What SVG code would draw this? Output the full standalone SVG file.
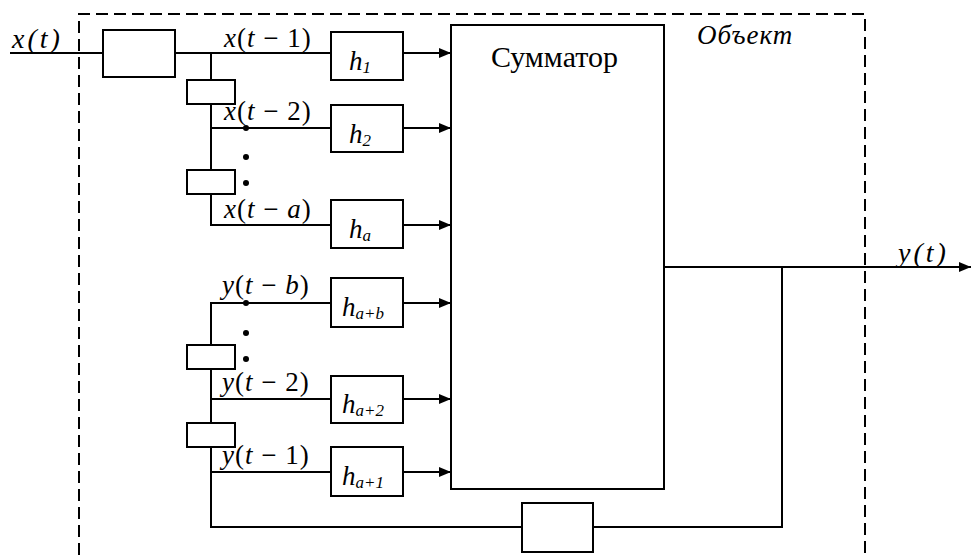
<svg xmlns="http://www.w3.org/2000/svg" width="971" height="555" viewBox="0 0 971 555">
<style>
.ln{stroke:#000;stroke-width:2;fill:none}
.bx{stroke:#000;stroke-width:2;fill:#fff}
.dash{stroke:#000;stroke-width:2;fill:none;stroke-dasharray:12,6}
text{font-family:"Liberation Serif",serif;fill:#000}
.m{font-size:27px;letter-spacing:1px}
.i{font-style:italic}
.io{font-size:28px;font-style:italic;letter-spacing:3px}
.h{font-size:27px;font-style:italic}
.s{font-size:17px}
</style>
<defs>
<marker id="ar" viewBox="0 0 12 10" refX="12" refY="5" markerWidth="12" markerHeight="10" markerUnits="userSpaceOnUse" orient="auto">
<path d="M0,0 L12,5 L0,10 Z" fill="#000"/>
</marker>
</defs>
<rect width="971" height="555" fill="#fff"/>
<g id="object-border">
<polyline class="dash" points="79,555 79,14 865,14 865,555"/>
<text x="697" y="44" font-size="27" font-style="italic" letter-spacing="1">Объект</text>
</g>
<g id="connectors">
<line class="ln" x1="10" y1="53" x2="103" y2="53"/>
<line class="ln" x1="175" y1="53" x2="331" y2="53"/>
<line class="ln" x1="211" y1="53" x2="211" y2="80"/>
<polyline class="ln" points="211,104 211,225 331,225"/>
<line class="ln" x1="211" y1="128" x2="331" y2="128"/>
<polyline class="ln" points="331,303 211,303 211,527 522,527"/>
<line class="ln" x1="211" y1="399" x2="331" y2="399"/>
<line class="ln" x1="211" y1="472" x2="331" y2="472"/>
<polyline class="ln" points="593,527 782,527 782,267"/>
<line class="ln" x1="403" y1="53" x2="451" y2="53" marker-end="url(#ar)"/>
<line class="ln" x1="403" y1="128" x2="451" y2="128" marker-end="url(#ar)"/>
<line class="ln" x1="403" y1="225" x2="451" y2="225" marker-end="url(#ar)"/>
<line class="ln" x1="403" y1="303" x2="451" y2="303" marker-end="url(#ar)"/>
<line class="ln" x1="403" y1="399" x2="451" y2="399" marker-end="url(#ar)"/>
<line class="ln" x1="403" y1="472" x2="451" y2="472" marker-end="url(#ar)"/>
<line class="ln" x1="664" y1="267" x2="971" y2="267" marker-end="url(#ar)"/>
<circle cx="246" cy="128" r="3"/>
<circle cx="246" cy="157" r="3"/>
<circle cx="246" cy="183" r="3"/>
<circle cx="246" cy="303" r="3"/>
<circle cx="246" cy="333" r="3"/>
<circle cx="246" cy="359" r="3"/>
</g>
<g id="input-delay"><rect class="bx" x="103" y="30" width="72" height="47"/></g>
<g id="delay-x2"><rect class="bx" x="187" y="80" width="48" height="24"/></g>
<g id="delay-xa"><rect class="bx" x="187" y="170" width="48" height="24"/></g>
<g id="delay-yb"><rect class="bx" x="187" y="345" width="48" height="24"/></g>
<g id="delay-y1"><rect class="bx" x="187" y="423" width="48" height="24"/></g>
<g id="feedback-delay"><rect class="bx" x="522" y="503" width="71" height="49"/></g>
<g id="h1"><rect class="bx" x="331" y="32" width="72" height="48"/><text class="h" x="349" y="70">h<tspan class="s" dy="3">1</tspan></text></g>
<g id="h2"><rect class="bx" x="331" y="105" width="72" height="47"/><text class="h" x="349" y="143">h<tspan class="s" dy="3">2</tspan></text></g>
<g id="ha"><rect class="bx" x="331" y="200" width="72" height="48"/><text class="h" x="349" y="238">h<tspan class="s" dy="3">a</tspan></text></g>
<g id="hab"><rect class="bx" x="331" y="278" width="72" height="49"/><text class="h" x="342" y="316">h<tspan class="s" dy="3">a+b</tspan></text></g>
<g id="ha2"><rect class="bx" x="331" y="376" width="72" height="47"/><text class="h" x="342" y="413">h<tspan class="s" dy="3">a+2</tspan></text></g>
<g id="ha1"><rect class="bx" x="331" y="447" width="72" height="49"/><text class="h" x="342" y="485">h<tspan class="s" dy="3">a+1</tspan></text></g>
<g id="summator"><rect class="bx" x="451" y="25" width="213" height="464"/>
<text x="491" y="67" font-size="30">Сумматор</text></g>
<g id="labels">
<text class="io" x="12" y="48">x(t)</text>
<text class="m" x="224" y="47"><tspan class="i">x</tspan>(<tspan class="i">t</tspan> − 1)</text>
<text class="m" x="224" y="120"><tspan class="i">x</tspan>(<tspan class="i">t</tspan> − 2)</text>
<text class="m" x="224" y="218"><tspan class="i">x</tspan>(<tspan class="i">t</tspan> − <tspan class="i">a</tspan>)</text>
<text class="m" x="222" y="294"><tspan class="i">y</tspan>(<tspan class="i">t</tspan> − <tspan class="i">b</tspan>)</text>
<text class="m" x="222" y="391"><tspan class="i">y</tspan>(<tspan class="i">t</tspan> − 2)</text>
<text class="m" x="222" y="464"><tspan class="i">y</tspan>(<tspan class="i">t</tspan> − 1)</text>
<text class="io" x="898" y="262">y(t)</text>
</g>
</svg>
